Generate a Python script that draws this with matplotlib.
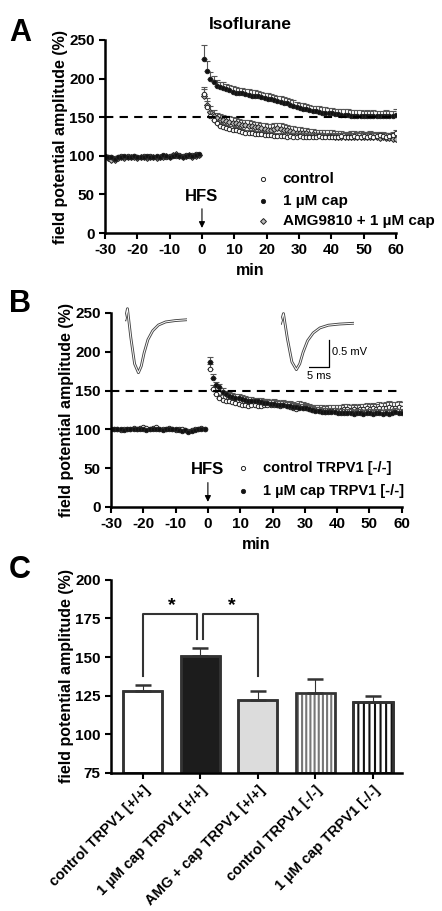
import numpy as np
import matplotlib
matplotlib.use("Agg")
import matplotlib.pyplot as plt

plt.rcParams['font.family'] = ['Liberation Sans', 'DejaVu Sans']
plt.rcParams['font.weight'] = 'bold'
plt.rcParams['axes.unicode_minus'] = False

# ---- panel A data (Isoflurane, wild type) ----
t_pre = np.arange(-30, 0)
t_post = np.linspace(0.6, 60, 61)

ctrl_pre = [100, 99, 98, 97, 99, 100, 99, 100, 99, 100, 99, 98, 100, 99, 100,
            99, 98, 99, 100, 99, 100, 101, 100, 101, 100, 101, 100, 101, 102, 101]
cap_pre = [100, 98, 99, 96, 98, 99, 100, 98, 99, 100, 99, 99, 98, 100, 99,
           99, 100, 99, 101, 100, 99, 100, 101, 100, 99, 100, 101, 100, 101, 102]
amg_pre = [99, 97, 95, 94, 97, 98, 97, 99, 98, 98, 97, 99, 98, 97, 98,
           99, 97, 98, 99, 100, 99, 101, 102, 100, 99, 100, 101, 99, 100, 101]

ctrl_post = [180, 163, 152, 146, 142, 139, 137, 136, 135, 134, 133, 132, 131, 130, 130,
             129, 128, 128, 128, 127, 127, 127, 126, 126, 126, 126, 125, 126, 125, 125,
             126, 125, 125, 124, 125, 125, 126, 125, 124, 125, 125, 124, 125, 126, 125,
             124, 125, 126, 125, 125, 126, 125, 126, 125, 126, 127, 126, 125, 126, 127, 130]
cap_post = [226, 210, 199, 195, 191, 189, 188, 186, 185, 183, 182, 181, 181, 180, 179,
            178, 178, 177, 176, 175, 174, 173, 172, 171, 170, 169, 168, 166, 165, 163,
            162, 161, 160, 159, 158, 158, 157, 156, 156, 155, 155, 154, 154, 153, 153,
            153, 152, 152, 152, 152, 151, 152, 151, 152, 151, 151, 151, 152, 151, 151, 153]
amg_post = [177, 166, 157, 151, 149, 147, 146, 145, 144, 143, 142, 141, 140, 140, 139,
            138, 137, 137, 136, 135, 134, 134, 135, 136, 135, 134, 133, 132, 131, 130,
            130, 129, 129, 128, 128, 127, 127, 127, 126, 126, 126, 125, 125, 125, 124,
            124, 125, 125, 124, 125, 124, 124, 125, 124, 124, 123, 124, 123, 123, 122, 122]
ctrl_err = [9, 8, 6, 5] + [4] * 57
cap_err = [17, 13, 9, 8] + [7] * 57
amg_err = [10, 9, 8, 8] + [7] * 57

# ---- panel B data (TRPV1 -/-) ----
ko_ctrl_pre = [100, 101, 100, 99, 101, 100, 101, 102, 101, 102, 103, 102, 101, 102, 103,
               101, 100, 101, 102, 100, 99, 101, 100, 99, 98, 99, 100, 101, 102, 100]
ko_cap_pre = [100, 100, 101, 100, 99, 100, 101, 100, 101, 100, 100, 99, 100, 101, 100,
              100, 99, 100, 101, 100, 100, 99, 98, 99, 97, 98, 99, 100, 101, 101]
ko_ctrl_post = [178, 152, 145, 140, 138, 137, 136, 135, 134, 133, 132, 131, 130, 132, 131,
                130, 130, 131, 132, 131, 132, 131, 130, 131, 130, 129, 128, 126, 129, 128,
                127, 126, 125, 125, 124, 124, 123, 124, 124, 125, 124, 125, 126, 126, 125,
                126, 125, 126, 126, 127, 126, 127, 126, 128, 127, 128, 129, 128, 128, 129, 128]
ko_cap_post = [187, 166, 157, 155, 148, 145, 143, 142, 141, 140, 139, 138, 137, 137, 136,
               136, 135, 134, 134, 133, 133, 132, 131, 131, 130, 130, 129, 129, 128, 128,
               127, 126, 125, 124, 124, 123, 123, 122, 122, 122, 121, 121, 121, 121, 121,
               120, 121, 121, 120, 121, 121, 120, 121, 121, 120, 121, 120, 121, 122, 121, 121]
ko_ctrl_err = [6, 5, 4, 4] + [7] * 57
ko_cap_err = [6, 5, 4, 4] + [5] * 57

# example field potential traces (ms, mV)
trace_t = [0, 0.5, 1.2, 2.0, 2.8, 3.4, 4.0, 4.8, 5.8, 7.0, 8.5, 10.5, 13.0]
trace_a = [0.0, 0.25, -0.4, -1.0, -1.2, -1.05, -0.75, -0.45, -0.25, -0.12, -0.05, -0.02, 0.0]
trace_b = [0.0, 0.25, -0.35, -0.9, -1.08, -0.9, -0.62, -0.36, -0.2, -0.08, -0.02, 0.0, 0.0]

# ---- panel C data ----
bar_labels = ["control TRPV1 [+/+]", "1 µM cap TRPV1 [+/+]", "AMG + cap TRPV1 [+/+]",
              "control TRPV1 [-/-]", "1 µM cap TRPV1 [-/-]"]
bar_means = [128, 151, 122, 127, 121]
bar_sems = [4, 5, 6, 9, 4]

fig = plt.figure(figsize=(4.42, 9.11), dpi=100)


def style_axes(ax):
    for s in ("top", "right"):
        ax.spines[s].set_visible(False)
    for s in ("left", "bottom"):
        ax.spines[s].set_linewidth(1.8)
    ax.tick_params(width=1.5, length=4, labelsize=11)
    for lab in ax.get_xticklabels() + ax.get_yticklabels():
        lab.set_fontweight("bold")


def timecourse(ax, series):
    for pre, post, err, mk, fc, ms in series:
        ax.errorbar(t_post, post, yerr=[np.zeros(len(err)), err], fmt="none",
                    ecolor="#555555", elinewidth=0.8, capsize=2.5, capthick=0.8)
        ax.plot(t_pre, pre, mk, mfc=fc, mec="#222222", ms=ms, mew=0.7, ls="none")
        ax.plot(t_post, post, mk, mfc=fc, mec="#222222", ms=ms, mew=0.7, ls="none")
    ax.axhline(150, color="black", ls=(0, (4, 3)), lw=1.5)
    ax.set_xlim(-30, 60)
    ax.set_ylim(0, 250)
    ax.set_xticks(range(-30, 61, 10))
    ax.set_yticks(range(0, 251, 50))
    ax.set_xlabel("min", fontsize=11.5, fontweight="bold")
    ax.set_ylabel("field potential amplitude (%)", fontsize=11.5, fontweight="bold", labelpad=1)
    ax.annotate("", xy=(0, 3), xytext=(0, 35),
                arrowprops=dict(arrowstyle="-|>", color="black", lw=0.8, mutation_scale=9))
    ax.text(0, 38, "HFS", ha="center", va="bottom", fontsize=12, fontweight="bold")
    style_axes(ax)


# Panel A
axA = fig.add_axes([0.2376, 0.7442, 0.658, 0.2119])
timecourse(axA, [
    (amg_pre, amg_post, amg_err, "D", "#bbbbbb", 3),
    (ctrl_pre, ctrl_post, ctrl_err, "o", "white", 3.2),
    (cap_pre, cap_post, cap_err, "o", "#111111", 3.2),
])
for y, mk, fc, lab in [(70, "o", "white", "control"), (42, "o", "#111111", "1 µM cap"),
                       (15, "D", "#bbbbbb", "AMG9810 + 1 µM cap")]:
    axA.plot([19], [y], mk, mfc=fc, mec="#222222", ms=3, mew=0.7, clip_on=False)
    axA.text(25, y, lab, va="center", fontsize=11, fontweight="bold")
axA.set_title("Isoflurane", fontsize=12.5, fontweight="bold", pad=8)
fig.text(0.02, 0.955, "A", fontsize=22, fontweight="bold")

# Panel B
axB = fig.add_axes([0.251, 0.4435, 0.658, 0.213])
timecourse(axB, [
    (ko_ctrl_pre, ko_ctrl_post, ko_ctrl_err, "o", "white", 3.2),
    (ko_cap_pre, ko_cap_post, ko_cap_err, "o", "#111111", 3.2),
])
for y, fc, lab in [(50, "white", "control TRPV1 [-/-]"), (21, "#111111", "1 µM cap TRPV1 [-/-]")]:
    axB.plot([11], [y], "o", mfc=fc, mec="#222222", ms=3, mew=0.7)
    axB.text(17, y, lab, va="center", fontsize=10.5, fontweight="bold")
fig.text(0.02, 0.657, "B", fontsize=22, fontweight="bold")

for rect in ([0.283, 0.586, 0.14, 0.08], [0.635, 0.59, 0.165, 0.07]):
    ins = fig.add_axes(rect)
    ins.plot(trace_t, trace_a, color="#444444", lw=2.0)
    ins.plot(trace_t, trace_a, color="white", lw=0.7)
    ins.set_ylim(-1.3, 0.35)
    ins.set_xlim(0, 13)
    ins.axis("off")
sb = fig.add_axes([0.7, 0.58, 0.1, 0.05])
sb.plot([0, 1, 1], [0, 0, 1], color="black", lw=0.9)
sb.set_xlim(0, 2.2)
sb.set_ylim(-0.6, 1.1)
sb.text(1.12, 0.55, "0.5 mV", fontsize=8, fontweight="normal", va="center")
sb.text(0.5, -0.15, "5 ms", fontsize=8, fontweight="normal", ha="center", va="top")
sb.axis("off")

# Panel C
axC = fig.add_axes([0.251, 0.1515, 0.658, 0.212])
x = np.arange(len(bar_means))
colors = ["white", "#1c1c1c", "#dcdcdc", "white", "white"]
hatches = [None, None, None, "||||", "|||"]
hcolors = ["#333333", "#333333", "#333333", "#777777", "#111111"]
axC.errorbar(x, bar_means, yerr=[np.zeros(5), bar_sems], fmt="none", ecolor="#333333",
             elinewidth=0.8, capsize=6, capthick=1.8)
plt.rcParams['hatch.linewidth'] = 1.5
for i in range(5):
    axC.bar(x[i], bar_means[i] - 75, bottom=75, width=0.68, color=colors[i],
            edgecolor=hcolors[i], hatch=hatches[i], lw=1.8)
    axC.bar(x[i], bar_means[i] - 75, bottom=75, width=0.68, fill=False,
            edgecolor="#333333", lw=1.8)
axC.plot([0, 0, 0.95, 0.95], [138, 178, 178, 162], color="#333333", lw=1.5)
axC.plot([1.05, 1.05, 2, 2], [162, 178, 178, 138], color="#333333", lw=1.5)
axC.text(0.5, 178, "*", ha="center", va="bottom", fontsize=14, fontweight="bold")
axC.text(1.55, 178, "*", ha="center", va="bottom", fontsize=14, fontweight="bold")
axC.set_xlim(-0.55, 4.5)
axC.set_ylim(75, 200)
axC.set_yticks(range(75, 201, 25))
axC.set_xticks(x)
style_axes(axC)
axC.set_xticklabels(bar_labels, rotation=45, ha="right", rotation_mode="anchor",
                    fontsize=10.5, fontweight="bold")
axC.set_ylabel("field potential amplitude (%)", fontsize=11.5, fontweight="bold", labelpad=1)
fig.text(0.02, 0.365, "C", fontsize=22, fontweight="bold")

fig.savefig("out.png", dpi=100)
